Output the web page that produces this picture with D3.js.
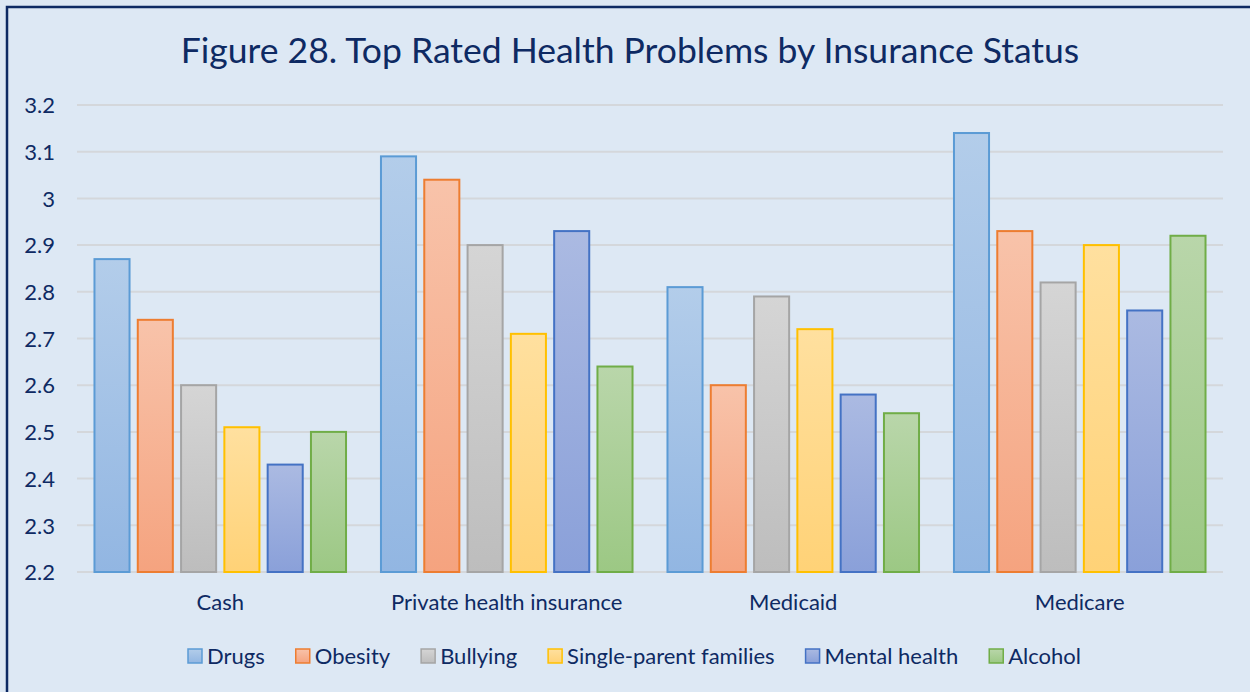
<!DOCTYPE html>
<html>
<head>
<meta charset="UTF-8">
<style>
body{
	margin: 0;
	background: #dde8f4;
	font-family: Lato, "Open Sans", sans-serif;
}
svg{
	display: block;
}
.grid line{
	stroke: #d4d7db;
	stroke-width: 2;
}
.axis text{
	font-family: Lato, "Open Sans", sans-serif;
	font-size: 22px;
	fill: #0e2a63;
}
.axis path, .axis line{
	display: none;
}
.title{
	font-size: 35.5px;
	fill: #0e2a63;
	text-anchor: middle;
}
.legend text{
	font-size: 22px;
	fill: #0e2a63;
}
</style>
<script src="https://cdn.jsdelivr.net/npm/d3@7"></script>
</head>
<body>
<script>
var categories = ["Cash", "Private health insurance", "Medicaid", "Medicare"];
var seriesNames = ["Drugs", "Obesity", "Bullying", "Single-parent families", "Mental health", "Alcohol"];
var drugs     = [2.87, 3.09, 2.81, 3.14];
var obesity   = [2.74, 3.04, 2.60, 2.93];
var bullying  = [2.60, 2.90, 2.79, 2.82];
var single    = [2.51, 2.71, 2.72, 2.90];
var mental    = [2.43, 2.93, 2.58, 2.76];
var alcohol   = [2.50, 2.64, 2.54, 2.92];
var yTicks = [2.2, 2.3, 2.4, 2.5, 2.6, 2.7, 2.8, 2.9, 3, 3.1, 3.2];

var seriesValues = [drugs, obesity, bullying, single, mental, alcohol];
// top, bottom, outline
var colors = [
	["#b3cdea", "#92b6e2", "#5b9bd5"],
	["#f8c3aa", "#f5a37f", "#ed7d31"],
	["#d5d5d5", "#bdbdbd", "#a5a5a5"],
	["#ffe09f", "#ffd277", "#ffc000"],
	["#abbae2", "#8aa0d9", "#4472c4"],
	["#b9d6aa", "#9cc884", "#70ad47"]
];

var W = 1250, H = 692;
var margin = {top: 105, left: 77, right: 27, bottom: 120};
var width = W - margin.left - margin.right,
	height = 572 - margin.top;

var svg = d3.select("body").append("svg")
	.attr("width", W)
	.attr("height", H);

// chart border
svg.append("rect")
	.attr("x", 7).attr("y", 7)
	.attr("width", W + 20).attr("height", H + 20)
	.attr("fill", "#dde8f4")
	.attr("stroke", "#0e2a63")
	.attr("stroke-width", 2.5);

svg.append("text")
	.attr("class", "title")
	.attr("x", 630)
	.attr("y", 63)
	.text("Figure 28. Top Rated Health Problems by Insurance Status");

var defs = svg.append("defs");
colors.forEach(function(c, i){
	var g = defs.append("linearGradient")
		.attr("id", "grad" + i)
		.attr("x1", 0).attr("y1", 0).attr("x2", 0).attr("y2", 1);
	g.append("stop").attr("offset", "0%").attr("stop-color", c[0]);
	g.append("stop").attr("offset", "100%").attr("stop-color", c[1]);
});

var g = svg.append("g")
	.attr("transform", "translate(" + margin.left + "," + margin.top + ")");

var y = d3.scaleLinear().domain([2.2, 3.2]).range([height, 0]);

var x0 = d3.scaleBand()
	.domain(categories)
	.range([0, width])
	.paddingInner(0)
	.paddingOuter(0);

var gap = x0.bandwidth() * 0.061;
var x1 = d3.scaleBand()
	.domain(d3.range(seriesNames.length))
	.range([gap, x0.bandwidth() - gap])
	.paddingInner(0.19)
	.paddingOuter(0);

g.append("g")
	.attr("class", "grid")
	.selectAll("line")
	.data(yTicks)
	.enter().append("line")
	.attr("x1", 0).attr("x2", width)
	.attr("y1", function(d){ return y(d); })
	.attr("y2", function(d){ return y(d); });

var groups = g.selectAll(".group")
	.data(categories)
	.enter().append("g")
	.attr("class", "group")
	.attr("transform", function(d){ return "translate(" + x0(d) + ",0)"; });

groups.selectAll("rect")
	.data(function(d, ci){
		return seriesValues.map(function(vals, si){ return {s: si, v: vals[ci]}; });
	})
	.enter().append("rect")
	.attr("x", function(d){ return x1(d.s); })
	.attr("y", function(d){ return y(d.v); })
	.attr("width", x1.bandwidth())
	.attr("height", function(d){ return y(2.2) - y(d.v); })
	.attr("fill", function(d){ return "url(#grad" + d.s + ")"; })
	.attr("stroke", function(d){ return colors[d.s][2]; })
	.attr("stroke-width", 2);

var yAxis = d3.axisLeft(y)
	.tickValues(yTicks)
	.tickFormat(d3.format("~g"))
	.tickSize(0)
	.tickPadding(22);

g.append("g")
	.attr("class", "axis")
	.call(yAxis)
	.selectAll("text").attr("dy", "0.35em");

var xAxis = d3.axisBottom(x0).tickSize(0).tickPadding(22);
g.append("g")
	.attr("class", "axis")
	.attr("transform", "translate(0," + height + ")")
	.call(xAxis);

// legend
var legend = svg.append("g").attr("class", "legend")
	.attr("transform", "translate(188,656)");
var lx = 0;
seriesNames.forEach(function(name, i){
	var item = legend.append("g").attr("transform", "translate(" + lx + ",0)");
	item.append("rect")
		.attr("x", 0).attr("y", -7)
		.attr("width", 14).attr("height", 14)
		.attr("fill", "url(#grad" + i + ")")
		.attr("stroke", colors[i][2])
		.attr("stroke-width", 1.5);
	var t = item.append("text")
		.attr("x", 19)
		.attr("dy", "0.35em")
		.text(name);
	lx += 19 + t.node().getComputedTextLength() + 31;
});
</script>
</body>
</html>
